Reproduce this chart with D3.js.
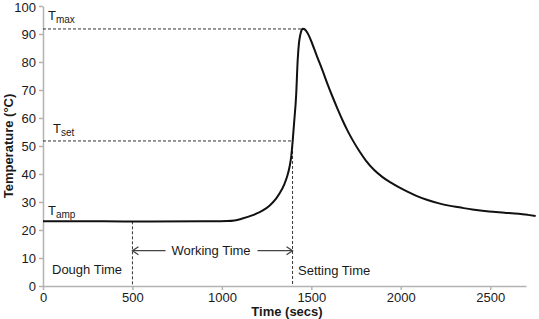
<!DOCTYPE html>
<html><head><meta charset="utf-8">
<script src="https://cdn.jsdelivr.net/npm/d3@7"></script>
<style>body{margin:0;background:#fff}svg{display:block;font-family:"Liberation Sans",Arial,sans-serif}</style>
</head><body><svg id="c" width="539" height="319"></svg>
<script>
const timeSecs = [0,300,600,900,1030,1070,1110,1173,1229,1266,1303,1322,1350,1365,1378,1388,1396,1404,1415,1424,1431,1437,1445,1452,1460,1471,1485,1499,1530,1563,1590,1619,1647,1675,1703,1731,1768,1805,1850,1898,1945,1991,2040,2084,2150,2214,2270,2326,2400,2493,2580,2660,2710,2754];
const tempC    = [23.1,23.1,23.0,23.1,23.2,23.4,24.0,25.3,27.0,28.7,31.2,33.0,36.5,39.2,42.5,46.5,52.0,58.5,68.0,81.0,86.8,89.3,91.3,91.9,91.8,91.1,89.6,87.5,82.3,76.9,72.2,67.5,63.2,59.1,55.4,52.1,48.2,44.8,41.5,38.9,36.9,35.2,33.6,32.3,30.7,29.5,28.7,28.1,27.3,26.6,26.2,25.8,25.4,25.0];
const xTicks = [0,500,1000,1500,2000,2500];
const yTicks = [0,10,20,30,40,50,60,70,80,90,100];
const tAmp = 23.1, tSet = 51.8, tMax = 91.8;
const doughTime = 500, settingTime = 1395, peakTime = 1452;
const arrowY = 12.6, workLeftEnd = 685, workRightStart = 1199;

const svg = d3.select("#c");
const x = d3.scaleLinear().domain([0,2700]).range([43,526]);
const y = d3.scaleLinear().domain([0,100]).range([286,6]);
const axisCol = "#b3b3b3", txt = "#1a1a1a";

const xa = svg.append("g").attr("transform",`translate(0,${y(0)})`)
  .call(d3.axisBottom(x).tickValues(xTicks).tickFormat(d3.format("d")).tickSize(4).tickSizeOuter(0).tickPadding(3));
const ya = svg.append("g").attr("transform",`translate(${x(0)},0)`)
  .call(d3.axisLeft(y).tickValues(yTicks).tickFormat(d3.format("d")).tickSize(4).tickSizeOuter(0).tickPadding(3));
[xa,ya].forEach(a=>{
  a.selectAll("path,line").attr("stroke",axisCol).attr("stroke-width",1.5);
  a.selectAll("text").attr("fill",txt).style("font-size","13px").style("font-family","Liberation Sans, Arial, sans-serif");
});
ya.selectAll(".tick text").filter(d=>d===100).attr("dy","0.4em");

const dash = "3,2";
const g = svg.append("g").attr("stroke","#333").attr("stroke-width",1).attr("stroke-dasharray",dash).attr("fill","none");
g.append("line").attr("x1",x(0)).attr("x2",x(peakTime)).attr("y1",y(tMax)).attr("y2",y(tMax));
g.append("line").attr("x1",x(0)).attr("x2",x(settingTime)).attr("y1",y(tSet)).attr("y2",y(tSet));
g.append("line").attr("x1",x(settingTime)).attr("x2",x(settingTime)).attr("y1",y(tSet)).attr("y2",y(0));
g.append("line").attr("x1",x(doughTime)).attr("x2",x(doughTime)).attr("y1",y(tAmp)).attr("y2",y(0));

const pts = timeSecs.map((t,i)=>[t,tempC[i]]);
svg.append("path").datum(pts)
  .attr("d", d3.line().x(d=>x(d[0])).y(d=>y(d[1])).curve(d3.curveMonotoneX))
  .attr("fill","none").attr("stroke","#111").attr("stroke-width",2);

const ar = svg.append("g").attr("stroke","#444").attr("stroke-width",1.3).attr("fill","none");
function arrow(x1,x2){
  const yy=y(arrowY), X1=x(x1), X2=x(x2), d = X2>X1?-1:1;
  ar.append("line").attr("x1",X1).attr("x2",X2).attr("y1",yy).attr("y2",yy);
  ar.append("path").attr("d",`M${X2+d*6},${yy-4}L${X2},${yy}L${X2+d*6},${yy+4}`);
}
arrow(workLeftEnd, doughTime);
arrow(workRightStart, settingTime);

const lab = svg.append("g").attr("fill",txt).style("font-size","13px");
function tlab(px,py,sub){
  const t = lab.append("text").attr("x",px).attr("y",py);
  t.append("tspan").text("T");
  t.append("tspan").attr("dy",3).style("font-size","10px").text(sub);
}
tlab(48,20,"max");
tlab(53,133,"set");
tlab(48,215,"amp");
lab.append("text").attr("x",52).attr("y",274).text("Dough Time");
lab.append("text").attr("x",211).attr("y",255).attr("text-anchor","middle").text("Working Time");
lab.append("text").attr("x",298).attr("y",275).text("Setting Time");

svg.append("text").attr("x",287).attr("y",316).attr("text-anchor","middle")
  .style("font-weight","bold").style("font-size","13px").attr("fill",txt).text("Time (secs)");
svg.append("text").attr("transform",`translate(13,146) rotate(-90)`).attr("text-anchor","middle")
  .style("font-weight","bold").style("font-size","13px").attr("fill",txt).text("Temperature (°C)");
</script></body></html>
